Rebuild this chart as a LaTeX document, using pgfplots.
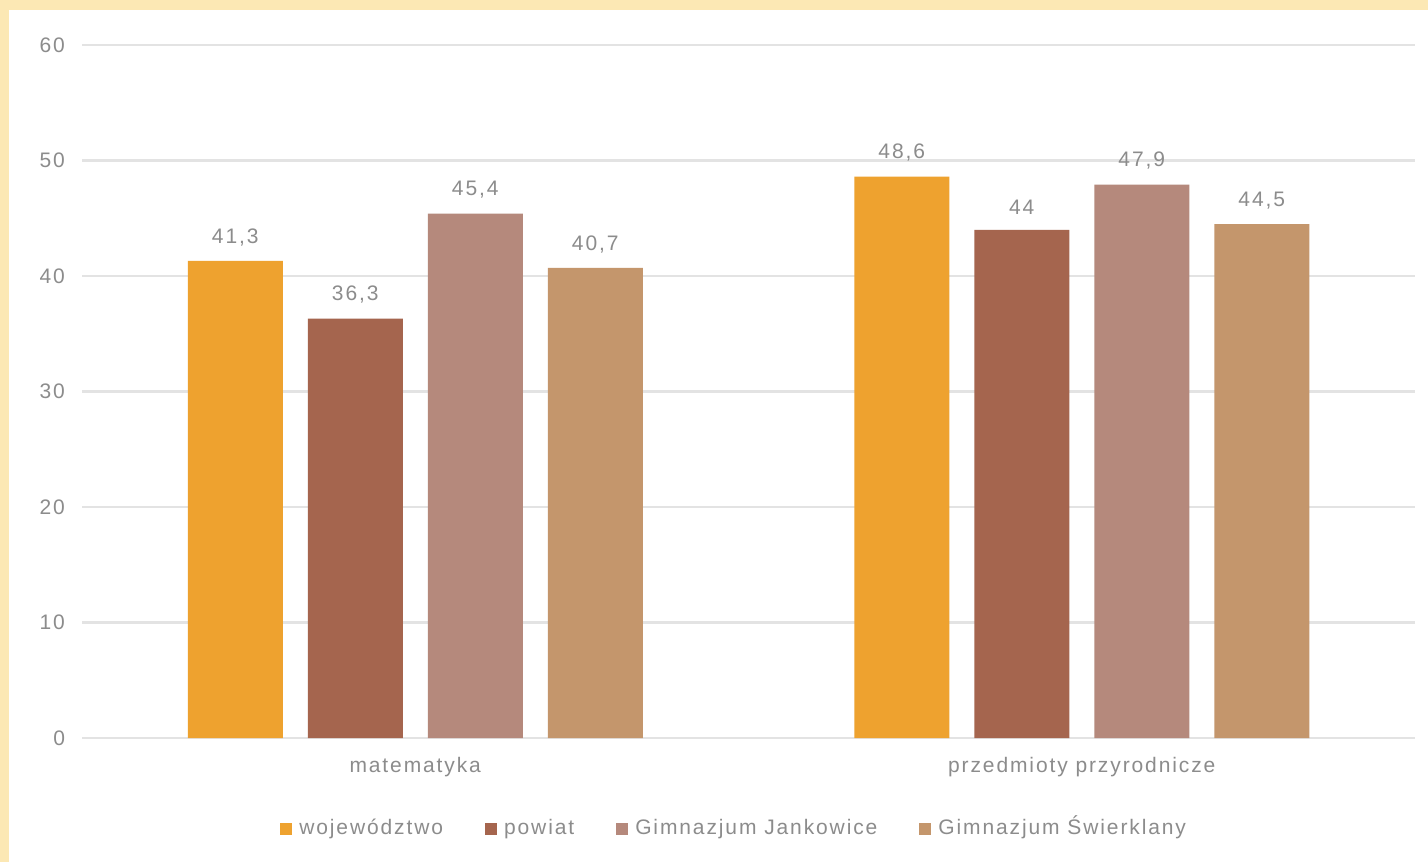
\documentclass[border=0pt]{standalone}
\usepackage{pgfplots}
\pgfplotsset{compat=1.18}
\usepackage{fontspec}
\setmainfont{Liberation Sans}[LetterSpace=9]
\definecolor{woj}{HTML}{EEA22F}
\definecolor{pow}{HTML}{A5654E}
\definecolor{jan}{HTML}{B5897C}
\definecolor{swi}{HTML}{C4966C}
\definecolor{txt}{HTML}{8C8C8C}
\definecolor{gridc}{HTML}{E3E3E3}
\definecolor{framec}{HTML}{FCE8B4}
\begin{document}
\begin{tikzpicture}
\fill[framec] (0pt,0pt) rectangle (714pt,431pt);
\fill[white] (4.5pt,0pt) rectangle (714pt,426pt);
\begin{axis}[
  at={(41pt,62pt)}, anchor=south west,
  scale only axis, width=666.5pt, height=346.5pt,
  ybar, bar width=47.5pt,
  xmin=-0.5, xmax=1.5, ymin=0, ymax=60,
  ytick={0,10,...,60},
  xtick={0,1}, xticklabels={matematyka, przedmioty przyrodnicze},
  axis line style={draw=none},
  major tick length=0pt,
  ymajorgrids, xmajorgrids=false, grid style={gridc, line width=1.2pt},
  tick label style={font=\fontsize{10.5}{12}\selectfont, text=txt},
  /pgf/number format/assume math mode=true,
  yticklabel style={xshift=-5pt},
  xticklabel style={yshift=-6pt},
  nodes near coords,
  every node near coord/.append style={font=\fontsize{10.5}{12}\selectfont, text=txt, /pgf/number format/assume math mode=true, /pgf/number format/use comma, /pgf/number format/fixed, /pgf/number format/precision=1, yshift=4pt},
  legend style={at={(0.49,-0.105)}, anchor=north, draw=none, legend columns=-1, font=\fontsize{10.5}{12}\selectfont, text=txt,
    nodes={text height=7.6pt, text depth=2.2pt},
    /tikz/every even column/.append style={column sep=19pt},
    /tikz/every odd column/.append style={column sep=1.5pt}},
  legend image code/.code={\fill[#1] (0pt,-3pt) rectangle (6pt,3pt);},
]
\addplot[fill=woj, draw=none, bar shift=-90pt] coordinates {(0,41.3) (1,48.6)};
\addplot[fill=pow, draw=none, bar shift=-30pt] coordinates {(0,36.3) (1,44)};
\addplot[fill=jan, draw=none, bar shift=30pt] coordinates {(0,45.4) (1,47.9)};
\addplot[fill=swi, draw=none, bar shift=90pt] coordinates {(0,40.7) (1,44.5)};
\legend{województwo, powiat, Gimnazjum Jankowice, Gimnazjum Świerklany}
\end{axis}
\end{tikzpicture}
\end{document}
